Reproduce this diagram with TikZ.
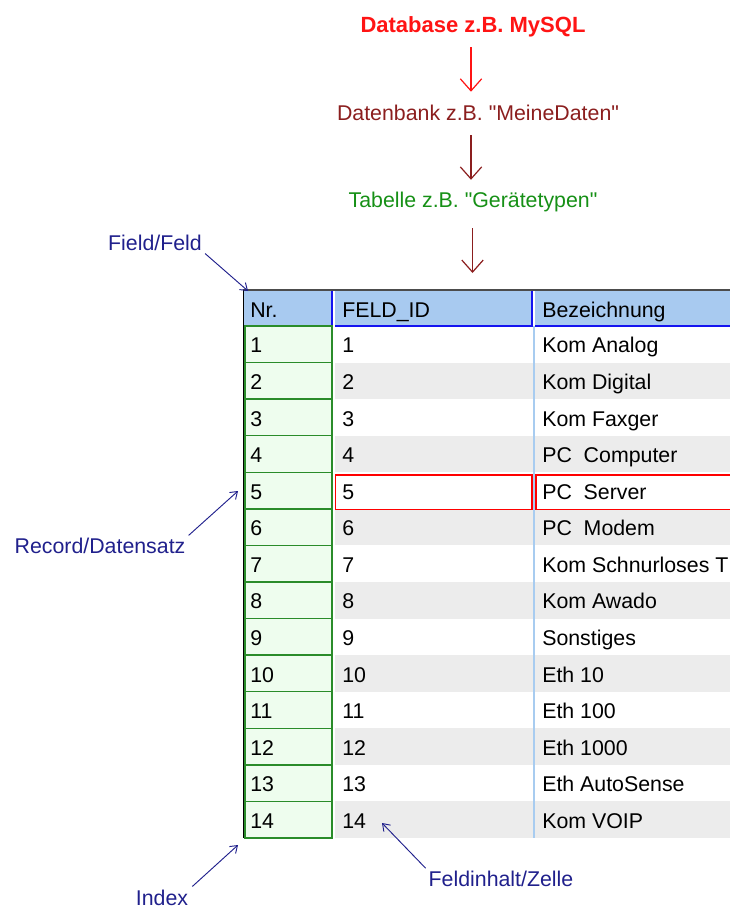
\documentclass[tikz,border=0pt]{standalone}
\usepackage{fontspec}
\setmainfont{Liberation Sans}
\usetikzlibrary{arrows.meta}

\definecolor{dbred}{HTML}{FF1414}
\definecolor{dbankred}{HTML}{8B1E1E}
\definecolor{tabgreen}{HTML}{169016}
\definecolor{labblue}{HTML}{20208C}
\definecolor{headfill}{HTML}{A8CAF0}
\definecolor{headline}{HTML}{1414F0}
\definecolor{idxfill}{HTML}{EEFDEE}
\definecolor{idxline}{HTML}{2A8C2A}
\definecolor{rowgray}{HTML}{ECECEC}
\definecolor{sepblue}{HTML}{A8CCF0}

\tikzset{
	bigtip/.style={-{Straight Barb[length=9pt,width=16pt]}, line width=0.9pt},
	smalltip/.style={-{Straight Barb[length=5pt,width=7pt]}, line width=0.7pt, labblue},
	plaintext/.style={inner sep=0pt, text height=11.5pt, text depth=0pt, font=\fontsize{16}{19}\selectfont},
	celltext/.style={plaintext, anchor=west},
	labtext/.style={plaintext, text=labblue}
}

\begin{document}
\begin{tikzpicture}[x=0.75pt, y=-0.75pt]
	\useasboundingbox (0,0) rectangle (730,909);

	%database hierarchy
	\node[plaintext, text=dbred, font=\bfseries\fontsize{16.5}{19}\selectfont] (DbLabel) at (473,25) {Database z.B. MySQL};
	\node[plaintext, text=dbankred] (DbankLabel) at (478,113) {Datenbank z.B. \textquotedbl MeineDaten\textquotedbl};
	\node[plaintext, text=tabgreen] (TabLabel) at (473,200) {Tabelle z.B. \textquotedbl Gerätetypen\textquotedbl};
	\coordinate (ArrowX) at (471,0);
	\coordinate (TableTop) at (472.5,290);
	\draw[bigtip, dbred, shorten <=10.7pt, shorten >=10pt] (DbLabel.south -| ArrowX) -- (DbankLabel.north -| ArrowX);
	\draw[bigtip, dbankred, shorten <=10.7pt, shorten >=9.2pt] (DbankLabel.south -| ArrowX) -- (TabLabel.north -| ArrowX);
	\draw[bigtip, dbankred, shorten <=15.2pt, shorten >=12.75pt] (TabLabel.south -| TableTop) -- (TableTop);

	%header row
	\fill[headfill] (244,290) rectangle (730,326);
	\fill[white] (332.5,290) rectangle (335,326);
	\fill[white] (532.5,290) rectangle (535,326);
	\draw[headline, line width=1pt] (244,326) -- (332,326) -- (332,291);
	\draw[headline, line width=1pt] (335,326) -- (532,326) -- (532,291);
	\draw[headline, line width=1pt] (535,326) -- (730,326);
	\draw[black!70, line width=1pt] (243,290) -- (730,290);
	\node[celltext] (HdrNr) at (250,310) {Nr.};
	\node[celltext] (HdrId) at (342,310) {FELD\_ID};
	\node[celltext] (HdrBez) at (542,310) {Bezeichnung};

	%data rows
	\foreach \txt [count=\i] in {Kom Analog, Kom Digital, Kom Faxger, PC~ Computer, PC~ Server, PC~ Modem, Kom Schnurloses T, Kom Awado, Sonstiges, Eth 10, Eth 100, Eth 1000, Eth AutoSense, Kom VOIP} {
		\pgfmathsetmacro\top{326+(\i-1)*36.57}
		\pgfmathsetmacro\bot{326+\i*36.57}
		\pgfmathsetmacro\mid{327+(\i-0.5)*36.57}
		\ifodd\i\else
			\fill[rowgray] (335,\top) rectangle (730,\bot);
		\fi
		\draw[idxline, fill=idxfill, line width=1pt] (245,\top) rectangle (332,\bot);
		\node[celltext] (Nr\i) at (250,\mid) {\i};
		\node[celltext] (Id\i) at (342,\mid) {\i};
		\node[celltext] (Bez\i) at (542,\mid) {\txt};
	}
	\draw[sepblue, line width=1pt] (534,326) -- (534,838);
	\draw[black, line width=1pt] (243.5,290) -- (243.5,838);

	%selected record
	\draw[red, line width=1pt] (335.5,475) rectangle (532,509.5);
	\draw[red, line width=1pt] (536,475) rectangle (733,509.5);

	%labels
	\node[labtext] (FieldLabel) at (155,243) {Field/Feld};
	\node[labtext] (RecordLabel) at (100,546) {Record/Datensatz};
	\node[labtext] (IndexLabel) at (162,898) {Index};
	\node[labtext] (CellLabel) at (501,879) {Feldinhalt/Zelle};
	\coordinate (FieldTip) at (248,291);
	\coordinate (RecordTip) at (238,491);
	\coordinate (IndexTip) at (238,845);
	\coordinate (CellTip) at (382,823);
	\draw[smalltip, shorten <=3pt] (FieldLabel.south east) -- (FieldTip);
	\draw[smalltip, shorten <=3pt] (RecordLabel.north east) -- (RecordTip);
	\draw[smalltip, shorten <=4pt] (IndexLabel.north east) -- (IndexTip);
	\draw[smalltip, shorten <=3pt] (CellLabel.north west) -- (CellTip);
\end{tikzpicture}
\end{document}
